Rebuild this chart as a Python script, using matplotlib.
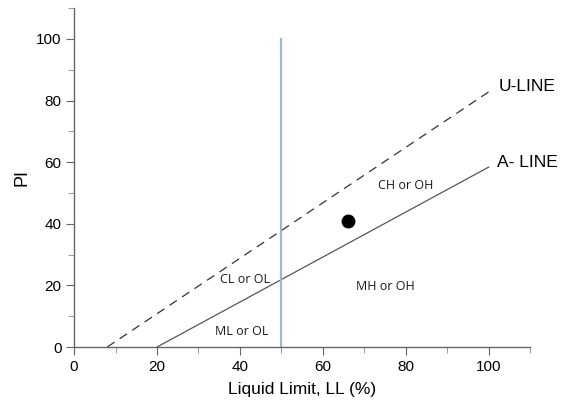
import numpy as np
import matplotlib
matplotlib.use("Agg")
from matplotlib import pyplot as plt
from matplotlib.ticker import MultipleLocator

# plasticity chart lines
a_line_ll = [20, 100]
a_line_pi = [0, 58.4]
u_line_ll = [8, 100]
u_line_pi = [0, 82.8]
ll_limit = [50, 50]
ll_limit_pi = [0, 100]

# sample point
sample_ll = [66]
sample_pi = [41]

zone_names = ["CL or OL", "ML or OL", "MH or OH", "CH or OH"]
zone_ll = [41.2, 40.5, 75, 80]
zone_pi = [21.8, 5.2, 19.8, 52.3]

plt.rcParams['font.family'] = ['Liberation Sans', 'DejaVu Sans']

fig = plt.figure(figsize=(5.61, 4.04), dpi=100)
ax = fig.add_axes([0.132, 0.141, 0.813, 0.839])

ax.plot(u_line_ll, u_line_pi, color='#333333', lw=0.9, dashes=(7, 5))
ax.plot(a_line_ll, a_line_pi, color='#555555', lw=0.9)
ax.plot(ll_limit, ll_limit_pi, color='#a0b4da', lw=1.6)
ax.plot(sample_ll, sample_pi, 'o', color='black', markersize=9)

for name, x, y in zip(zone_names, zone_ll, zone_pi):
    ax.text(x, y, name, ha='center', va='center', fontsize=9,
            family=['Open Sans', 'DejaVu Sans'], color='#1a1a1a')

ax.text(102.5, 84.5, "U-LINE", ha='left', va='center', fontsize=12.5)
ax.text(102, 60, "A- LINE", ha='left', va='center', fontsize=12.5)

ax.set_xlim(0, 110)
ax.set_ylim(0, 110)
ax.xaxis.set_major_locator(MultipleLocator(20))
ax.xaxis.set_minor_locator(MultipleLocator(10))
ax.yaxis.set_major_locator(MultipleLocator(20))
ax.yaxis.set_minor_locator(MultipleLocator(10))
ax.set_xticks([0, 20, 40, 60, 80, 100])
ax.set_yticks([0, 20, 40, 60, 80, 100])

for s in ['top', 'right']:
    ax.spines[s].set_visible(False)
for s in ['left', 'bottom']:
    ax.spines[s].set_color('#666666')
    ax.spines[s].set_linewidth(1.0)

ax.tick_params(which='major', length=6, color='#666666', labelsize=11, pad=3)
ax.tick_params(which='minor', length=4, color='#888888')

ax.set_xlabel("Liquid Limit, LL (%)", fontsize=12.5, labelpad=6)
ax.set_ylabel("PI", fontsize=13, labelpad=4)

fig.savefig("out.png", dpi=100)
